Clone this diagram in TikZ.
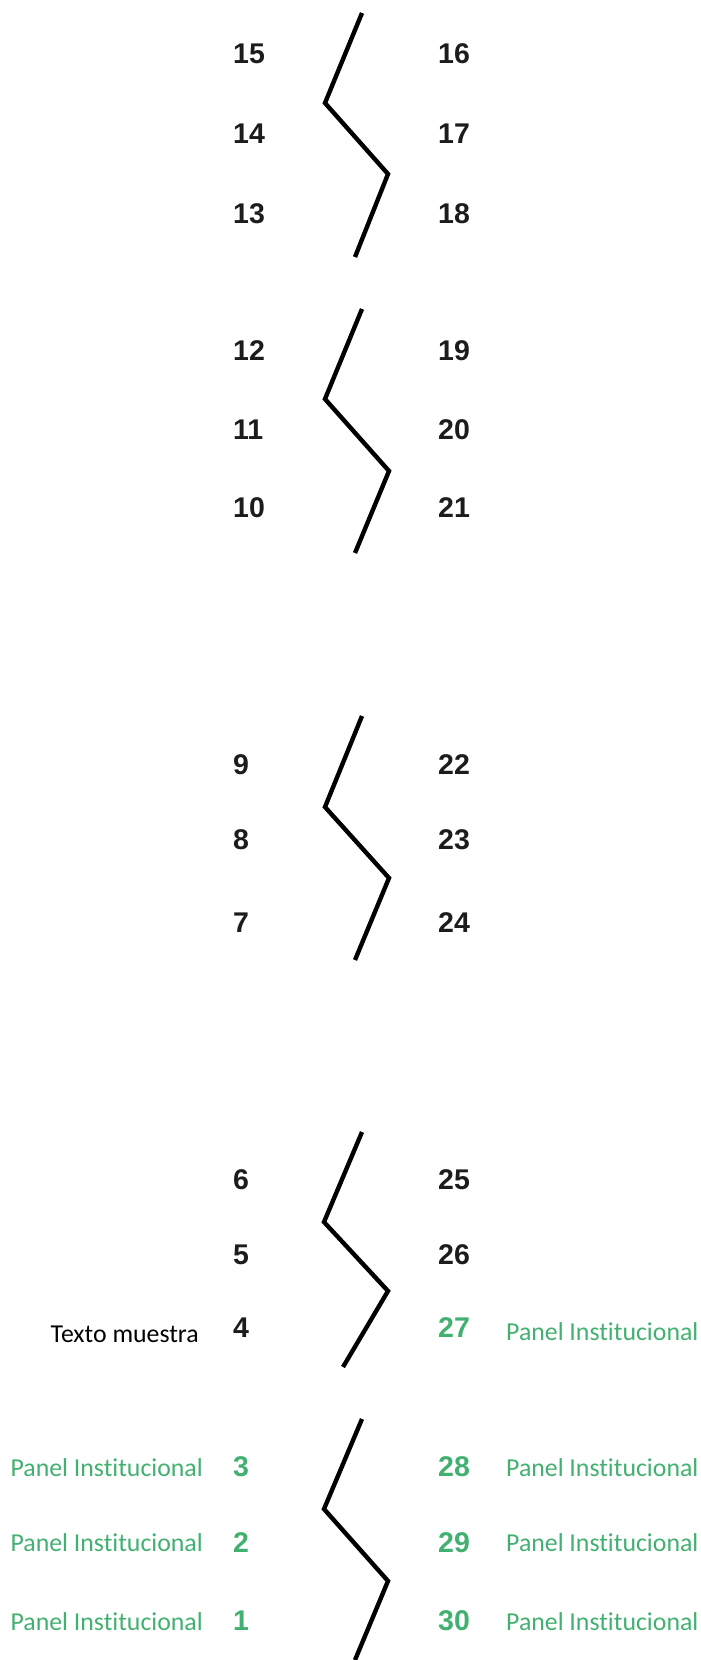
\documentclass[tikz,border=0pt]{standalone}
\usepackage{fontspec}
\setmainfont{Liberation Sans}
\newfontfamily\panelfont[Ligatures=NoCommon]{Carlito}
\definecolor{panelgreen}{RGB}{66,176,112}
\definecolor{numblack}{RGB}{28,28,28}

\begin{document}
\begin{tikzpicture}[
    x=1pt, y=-1pt,
    % --- Styles ---
    num/.style={anchor=base west, inner sep=0pt, font=\fontsize{28.5}{28.5}\selectfont\bfseries, text=numblack},
    num_green/.style={num, text=panelgreen},
    tag/.style={inner sep=0pt, font=\panelfont\fontsize{25.8}{25.8}\selectfont, text=panelgreen},
    zigzag/.style={draw=black, line width=4.4pt, miter limit=10},
]
    \useasboundingbox (0,0) rectangle (701,1660);

    % ==========================
    % 1. GROUP 13-18
    % ==========================
    \draw[zigzag] (362,13) -- (325,103) -- (388,174) -- (355,257);
    \node[num] (n15) at (233,63) {15};
    \node[num] (n14) at (233,143) {14};
    \node[num] (n13) at (233,223) {13};
    \node[num] (n16) at (438,63) {16};
    \node[num] (n17) at (438,143) {17};
    \node[num] (n18) at (438,223) {18};

    % ==========================
    % 2. GROUP 10-21
    % ==========================
    \draw[zigzag] (362,309) -- (325,399) -- (389,471) -- (355,553);
    \node[num] (n12) at (233,360) {12};
    \node[num] (n11) at (233,439) {11};
    \node[num] (n10) at (233,517) {10};
    \node[num] (n19) at (438,360) {19};
    \node[num] (n20) at (438,439) {20};
    \node[num] (n21) at (438,517) {21};

    % ==========================
    % 3. GROUP 7-24
    % ==========================
    \draw[zigzag] (362,716) -- (325,807) -- (389,878) -- (355,960);
    \node[num] (n9) at (233,774) {9};
    \node[num] (n8) at (233,849) {8};
    \node[num] (n7) at (233,932) {7};
    \node[num] (n22) at (438,774) {22};
    \node[num] (n23) at (438,849) {23};
    \node[num] (n24) at (438,932) {24};

    % ==========================
    % 4. GROUP 4-27
    % ==========================
    \draw[zigzag] (362,1132) -- (324,1222) -- (388,1291) -- (343,1367);
    \node[num] (n6) at (233,1189) {6};
    \node[num] (n5) at (233,1264) {5};
    \node[num] (n4) at (233,1337) {4};
    \node[num] (n25) at (438,1189) {25};
    \node[num] (n26) at (438,1264) {26};
    \node[num_green] (n27) at (438,1337) {27};

    \node[tag, text=black, anchor=base east] (sample) at (199,1342) {Texto muestra};
    \node[tag, anchor=base west] (t27) at (506,1340) {Panel Institucional};

    % ==========================
    % 5. GROUP 1-30
    % ==========================
    \draw[zigzag] (362,1419) -- (324,1509) -- (388,1581) -- (355,1660);
    \node[num_green] (n3) at (233,1476) {3};
    \node[num_green] (n2) at (233,1552) {2};
    \node[num_green] (n1) at (233,1630) {1};
    \node[num_green] (n28) at (438,1476) {28};
    \node[num_green] (n29) at (438,1552) {29};
    \node[num_green] (n30) at (438,1630) {30};

    \node[tag, anchor=base east] (t3) at (203,1476) {Panel Institucional};
    \node[tag, anchor=base east] (t2) at (203,1551) {Panel Institucional};
    \node[tag, anchor=base east] (t1) at (203,1630) {Panel Institucional};
    \node[tag, anchor=base west] (t28) at (506,1476) {Panel Institucional};
    \node[tag, anchor=base west] (t29) at (506,1551) {Panel Institucional};
    \node[tag, anchor=base west] (t30) at (506,1630) {Panel Institucional};

\end{tikzpicture}
\end{document}
